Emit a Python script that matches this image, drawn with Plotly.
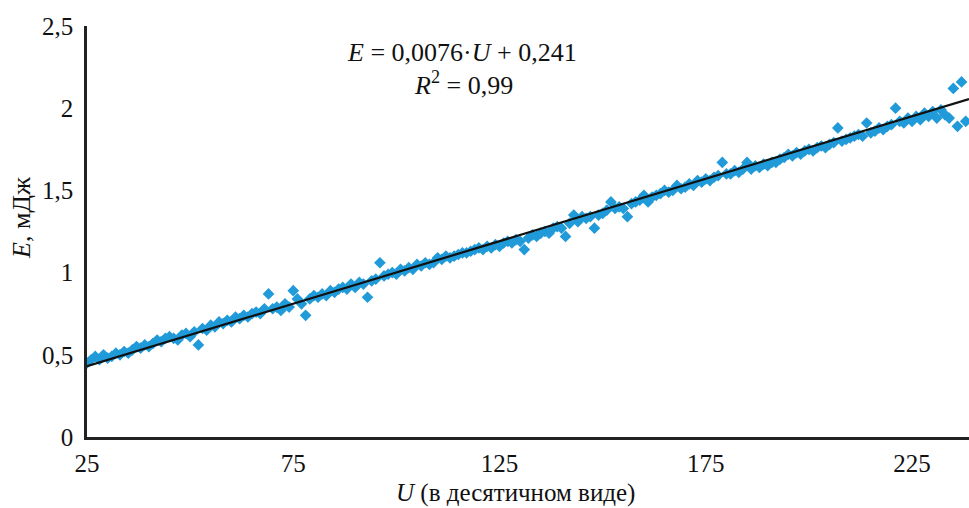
import plotly.graph_objects as go

# Measured points: U (decimal) vs E, mJ
u_values = list(range(25, 239))
e_values = [
    0.45, 0.47, 0.49, 0.47, 0.50, 0.48, 0.49, 0.51, 0.50, 0.52,   # 25-34
    0.51, 0.53, 0.55, 0.54, 0.56, 0.55, 0.57, 0.59, 0.58, 0.60,   # 35-44
    0.61, 0.60, 0.59, 0.62, 0.63, 0.61, 0.64, 0.56, 0.66, 0.65,   # 45-54
    0.68, 0.67, 0.70, 0.69, 0.71, 0.70, 0.73, 0.72, 0.74, 0.73,   # 55-64
    0.75, 0.76, 0.75, 0.78, 0.87, 0.78, 0.79, 0.77, 0.81, 0.79,   # 65-74
    0.89, 0.84, 0.81, 0.74, 0.84, 0.86, 0.85, 0.87, 0.86, 0.89,   # 75-84
    0.88, 0.90, 0.91, 0.90, 0.93, 0.91, 0.94, 0.93, 0.85, 0.95,   # 85-94
    0.96, 1.06, 0.98, 0.99, 1.00, 0.99, 1.02, 1.01, 1.03, 1.02,   # 95-104
    1.05, 1.04, 1.06, 1.05, 1.06, 1.09, 1.08, 1.10, 1.09, 1.10,   # 105-114
    1.11, 1.12, 1.12, 1.13, 1.14, 1.15, 1.14, 1.16, 1.15, 1.17,   # 115-124
    1.16, 1.18, 1.19, 1.18, 1.20, 1.19, 1.14, 1.21, 1.23, 1.22,   # 125-134
    1.24, 1.25, 1.24, 1.27, 1.28, 1.27, 1.22, 1.30, 1.35, 1.31,   # 135-144
    1.34, 1.33, 1.34, 1.27, 1.35, 1.36, 1.38, 1.43, 1.39, 1.40,   # 145-154
    1.39, 1.34, 1.42, 1.43, 1.44, 1.47, 1.43, 1.46, 1.47, 1.48,   # 155-164
    1.50, 1.49, 1.50, 1.53, 1.51, 1.52, 1.54, 1.53, 1.56, 1.55,   # 165-174
    1.57, 1.56, 1.58, 1.59, 1.67, 1.60, 1.60, 1.62, 1.61, 1.63,   # 175-184
    1.67, 1.63, 1.65, 1.64, 1.66, 1.65, 1.67, 1.67, 1.69, 1.70,   # 185-194
    1.72, 1.71, 1.73, 1.72, 1.74, 1.75, 1.74, 1.76, 1.77, 1.76,   # 195-204
    1.78, 1.79, 1.88, 1.80, 1.81, 1.82, 1.83, 1.84, 1.83, 1.91,   # 205-214
    1.85, 1.86, 1.88, 1.87, 1.89, 1.90, 2.00, 1.92, 1.91, 1.94,   # 215-224
    1.92, 1.95, 1.93, 1.97, 1.95, 1.98, 1.94, 1.99, 1.96, 1.94,   # 225-234
    2.12, 1.89, 2.16, 1.92,                                       # 235-238
]

# Linear trend line endpoints (E = 0,0076·U + 0,241)
trend_u = [25, 238.8]
trend_e = [0.431, 2.056]

x_ticks = [25, 75, 125, 175, 225]
x_tick_labels = ["25", "75", "125", "175", "225"]
y_ticks = [0, 0.5, 1, 1.5, 2, 2.5]
y_tick_labels = ["0", "0,5", "1", "1,5", "2", "2,5"]

FONT = "Liberation Serif"
TICK_FS = 25
TEXT_FS = 26
TXT = "#111111"

L, R, T, B = 87, 0, 26, 71
PW, PH = 969 - L - R, 508 - T - B


def px(x):
    return (x - L) / PW


def py(y):
    return (508 - B - y) / PH


fig = go.Figure()
fig.add_trace(go.Scatter(
    x=u_values, y=e_values, mode="markers",
    marker=dict(symbol="diamond", size=9, color="#209ad8",
                line=dict(width=0)),
    showlegend=False, hoverinfo="x+y",
))
fig.add_trace(go.Scatter(
    x=trend_u, y=trend_e, mode="lines",
    line=dict(color="#111111", width=2.2),
    showlegend=False, hoverinfo="skip",
))

fig.update_layout(
    width=969, height=508,
    margin=dict(l=L, r=R, t=T, b=B),
    paper_bgcolor="white", plot_bgcolor="white",
    font=dict(family=FONT, size=TICK_FS, color=TXT),
    xaxis=dict(
        range=[25, 238.8], tickmode="array", tickvals=x_ticks,
        ticktext=x_tick_labels, showgrid=False, zeroline=False,
        showline=True, linecolor="#222222", linewidth=2.5,
        ticks="", ticklabelstandoff=2, automargin=False,
        tickfont=dict(family=FONT, size=TICK_FS, color=TXT),
    ),
    yaxis=dict(
        range=[0, 2.5], tickmode="array", tickvals=y_ticks,
        ticktext=y_tick_labels, showgrid=False, zeroline=False,
        showline=True, linecolor="#222222", linewidth=2.5,
        ticks="", ticklabelstandoff=6, automargin=False,
        tickfont=dict(family=FONT, size=TICK_FS, color=TXT),
    ),
    annotations=[
        dict(text="<i>E</i> = 0,0076·<i>U</i> + 0,241", xref="paper", yref="paper",
             x=px(462), y=py(52), xanchor="center", yanchor="middle",
             showarrow=False, font=dict(family=FONT, size=TEXT_FS, color=TXT)),
        dict(text="<i>R</i><sup>2</sup> = 0,99", xref="paper", yref="paper",
             x=px(463), y=py(83), xanchor="center", yanchor="middle",
             showarrow=False, font=dict(family=FONT, size=TEXT_FS, color=TXT)),
        dict(text="<i>U</i> (в десятичном виде)", xref="paper", yref="paper",
             x=px(515), y=py(493), xanchor="center", yanchor="middle",
             showarrow=False, font=dict(family=FONT, size=25, color=TXT)),
        dict(text="<i>E</i>, мДж", xref="paper", yref="paper",
             x=px(21), y=py(218), xanchor="center", yanchor="middle",
             textangle=-90, showarrow=False,
             font=dict(family=FONT, size=TEXT_FS, color=TXT)),
    ],
)

fig.write_html(
    "out.html",
    config={"displayModeBar": False},
    post_script="document.body.style.margin='0';document.body.style.overflow='hidden';",
)
